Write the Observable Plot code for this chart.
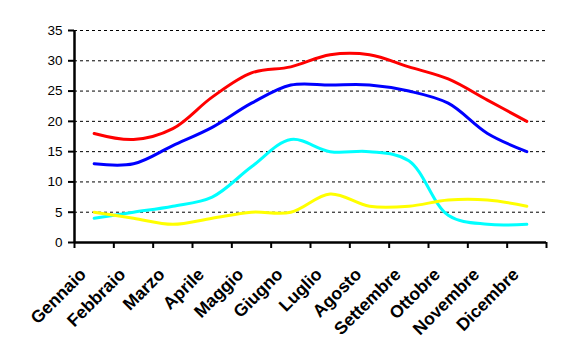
<!DOCTYPE html>
<html>
<head>
<meta charset="utf-8">
<script src="https://cdn.jsdelivr.net/npm/d3@7"></script>
<script src="https://cdn.jsdelivr.net/npm/@observablehq/plot@0.6"></script>
<style>
  html, body { margin: 0; padding: 0; background: #fff; }
</style>
</head>
<body>
<div id="chart"></div>
<script>
const months = ["Gennaio","Febbraio","Marzo","Aprile","Maggio","Giugno","Luglio","Agosto","Settembre","Ottobre","Novembre","Dicembre"];
const redValues    = [18, 17, 18.8, 24, 28, 29, 31, 31, 29, 27, 23.5, 20];
const blueValues   = [13, 13, 16, 19, 23, 26, 26, 26, 25, 23, 18, 15];
const cyanValues   = [4, 5, 6, 7.5, 12.5, 17, 15, 15, 13.5, 4.5, 3, 3];
const yellowValues = [5, 4, 3, 4, 5, 5, 8, 6, 6, 7, 7, 6];
const yTicks = [0, 5, 10, 15, 20, 25, 30, 35];

const seriesList = [
  {name: "red", color: "#ff0000", values: redValues},
  {name: "blue", color: "#0000ff", values: blueValues},
  {name: "cyan", color: "#00ffff", values: cyanValues},
  {name: "yellow", color: "#ffff00", values: yellowValues}
];

const monthTable = months.map((m, i) => ({month: m, pos: i + 0.5}));

const lineMarks = seriesList.map(s =>
  Plot.line(s.values.map((v, i) => ({pos: i + 0.5, value: v})), {
    x: "pos", y: "value", stroke: s.color, strokeWidth: 3, curve: "catmull-rom"
  })
);

const chart = Plot.plot({
  width: 563,
  height: 362,
  marginTop: 30,
  marginBottom: 120,
  marginLeft: 74,
  marginRight: 17,
  style: {fontFamily: "'Liberation Sans', Arial, sans-serif", background: "#fff", color: "#000"},
  x: {type: "linear", domain: [0, 12]},
  y: {domain: [0, 35]},
  marks: [
    Plot.gridY(yTicks.filter(d => d > 0), {stroke: "#000", strokeOpacity: 1, strokeDasharray: "3,3", strokeWidth: 1}),
    Plot.axisY({ticks: yTicks, tickSize: 6, tickPadding: 6, fontSize: 13.5, strokeWidth: 2, label: null}),
    Plot.axisX({ticks: d3.range(13), tickSize: 6, tickFormat: () => "", strokeWidth: 2, label: null}),
    ...lineMarks,
    Plot.ruleX([0], {stroke: "#000", strokeWidth: 2.5}),
    Plot.ruleY([0], {stroke: "#000", strokeWidth: 2.5}),
    Plot.text(monthTable, {
      x: "pos", text: "month", frameAnchor: "bottom", rotate: -45, textAnchor: "end",
      lineAnchor: "bottom", dx: -7, dy: 33, fontSize: 17.5, fontWeight: "bold", fill: "#000"
    })
  ]
});
document.getElementById("chart").appendChild(chart);
</script>
</body>
</html>
